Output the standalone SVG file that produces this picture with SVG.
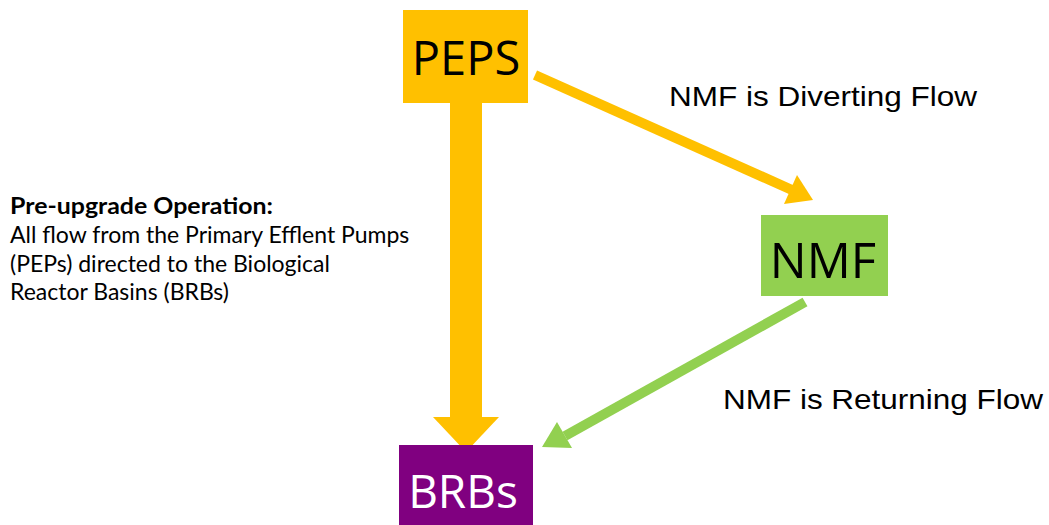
<svg xmlns="http://www.w3.org/2000/svg" width="1049" height="525" viewBox="0 0 1049 525">
<style>
.box-text{font-family:"Open Sans","Noto Sans",sans-serif;}
.lbl{font-family:"Liberation Sans",Arial,sans-serif;font-size:28px;fill:#000;}
.note{font-family:"Lato","Open Sans",sans-serif;font-size:23px;fill:#000;}
</style>
<rect width="1049" height="525" fill="#fff"/>
<g id="connectors">
  <rect x="450" y="100" width="32" height="318" fill="#FFC000"/>
  <polygon points="433,417 499,417 466,452" fill="#FFC000"/>
  <line x1="535" y1="75" x2="792" y2="190" stroke="#FFC000" stroke-width="10"/>
  <polygon points="784,204 797,175 813,200" fill="#FFC000"/>
  <line x1="805" y1="302" x2="565" y2="436" stroke="#92D050" stroke-width="10"/>
  <polygon points="557,422 572,448 542,447" fill="#92D050"/>
</g>
<g id="node-peps">
  <rect x="403" y="10" width="125" height="93" fill="#FFC000"/>
  <text class="box-text" x="466" y="75" font-size="47" text-anchor="middle" fill="#000">PEPS</text>
</g>
<g id="node-nmf">
  <rect x="761" y="215" width="127" height="81" fill="#92D050"/>
  <text class="box-text" x="823" y="278" font-size="49" text-anchor="middle" fill="#000">NMF</text>
</g>
<g id="node-brbs">
  <rect x="399" y="445" width="134" height="80" fill="#800080"/>
  <text class="box-text" x="463" y="508" font-size="46" text-anchor="middle" fill="#fff">BRBs</text>
</g>
<g id="labels">
  <text class="lbl" x="669" y="106" textLength="308" lengthAdjust="spacingAndGlyphs">NMF is Diverting Flow</text>
  <text class="lbl" x="723" y="409" textLength="320" lengthAdjust="spacingAndGlyphs">NMF is Returning Flow</text>
  <text class="note" x="10" y="214" font-weight="bold" textLength="263" lengthAdjust="spacingAndGlyphs">Pre-upgrade Operation:</text>
  <text class="note" x="10" y="243">All flow from the Primary Efflent Pumps</text>
  <text class="note" x="10" y="272">(PEPs) directed to the Biological</text>
  <text class="note" x="10" y="300">Reactor Basins (BRBs)</text>
</g>
</svg>
